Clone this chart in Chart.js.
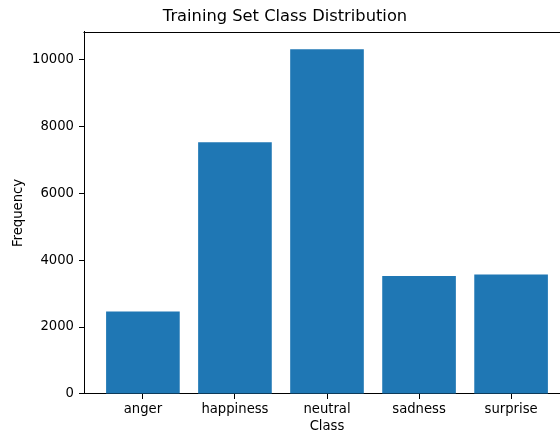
<!DOCTYPE html>
<html>
<head>
<meta charset="utf-8">
<script src="https://cdn.jsdelivr.net/npm/chart.js@4/dist/chart.umd.min.js"></script>
<style>
html,body{margin:0;padding:0;background:#fff;overflow:hidden;}
#wrap{width:560px;height:434px;overflow:hidden;position:relative;}
canvas{display:block;}
</style>
</head>
<body>
<div id="wrap"><canvas id="c" width="580" height="434"></canvas></div>
<script>
const categories = ["anger", "happiness", "neutral", "sadness", "surprise"];
const frequencies = [2466, 7522, 10299, 3522, 3573];
const yTicks = [0, 2000, 4000, 6000, 8000, 10000];

const FONT = "'DejaVu Sans', sans-serif";
Chart.defaults.font.family = FONT;
Chart.defaults.color = '#000';

const yMax = Math.max(...frequencies) * 1.05;
const xMin = -0.4 - 0.05 * 4.8;
const xMax = 4.4 + 0.05 * 4.8;

// top spine (left/bottom come from the axis borders; right spine lies outside the view)
const frame = {
  id: 'frame',
  afterDatasetsDraw(chart) {
    const a = chart.chartArea, ctx = chart.ctx;
    const t = Math.round(a.top) + 0.5;
    ctx.save();
    ctx.strokeStyle = '#000';
    ctx.lineWidth = 1;
    ctx.beginPath();
    ctx.moveTo(Math.round(a.left) - 0.5, t);
    ctx.lineTo(Math.round(a.right) + 0.5, t);
    ctx.stroke();
    ctx.restore();
  }
};

new Chart(document.getElementById('c'), {
  type: 'bar',
  data: {
    datasets: [{
      data: frequencies.map((v, i) => ({x: i, y: v})),
      backgroundColor: '#1f77b4',
      borderWidth: 0,
      barPercentage: 0.8,
      categoryPercentage: 1.0
    }]
  },
  options: {
    responsive: false,
    animation: false,
    devicePixelRatio: 1,
    layout: {padding: {left: 0, right: 10, top: 0, bottom: 0}},
    plugins: {
      legend: {display: false},
      tooltip: {enabled: false},
      title: {
        display: true,
        text: 'Training Set Class Distribution',
        font: {size: 16.3, weight: 'normal', family: FONT},
        color: '#000',
        padding: {top: 7, bottom: 5.4}
      }
    },
    scales: {
      x: {
        type: 'linear',
        offset: false,
        min: xMin,
        max: xMax,
        grid: {display: true, offset: false, drawOnChartArea: false, drawTicks: true, tickLength: 5, color: '#000', tickColor: '#000'},
        border: {display: true, color: '#000', width: 1},
        ticks: {
          font: {size: 13.2},
          color: '#000',
          padding: 3,
          maxRotation: 0,
          autoSkip: false,
          callback: (v) => categories[v] !== undefined ? categories[v] : ''
        },
        afterBuildTicks: (s) => { s.ticks = categories.map((c, i) => ({value: i})); },
        afterFit: (s) => { s.height = 40; },
        title: {display: true, text: 'Class', font: {size: 13.2}, color: '#000', padding: {top: 0, bottom: 0}}
      },
      y: {
        type: 'linear',
        min: 0,
        max: yMax,
        grid: {display: true, drawOnChartArea: false, drawTicks: true, tickLength: 5, color: '#000', tickColor: '#000'},
        border: {display: true, color: '#000', width: 1},
        ticks: {
          font: {size: 13.2},
          color: '#000',
          padding: 5,
          callback: (v) => String(v)
        },
        afterBuildTicks: (s) => { s.ticks = yTicks.map(v => ({value: v})); },
        afterFit: (s) => { s.width = 84; },
        title: {display: true, text: 'Frequency', font: {size: 13.2}, color: '#000', padding: {top: 11, bottom: 4}}
      }
    }
  },
  plugins: [frame]
});
</script>
</body>
</html>
